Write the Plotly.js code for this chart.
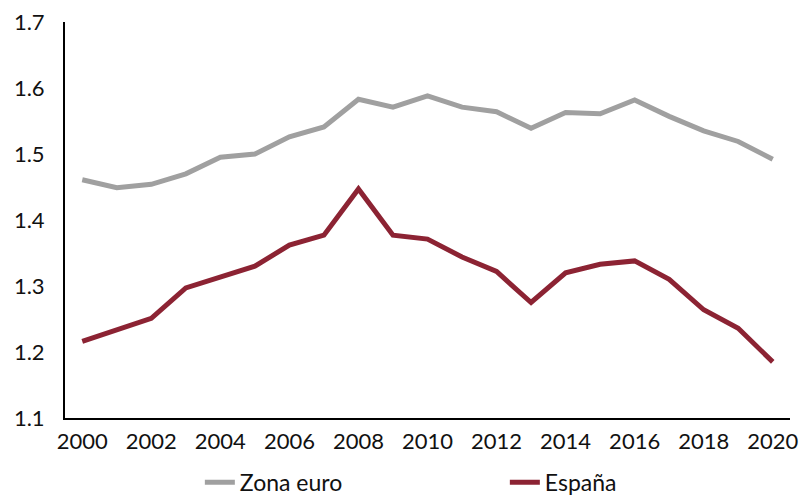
<!DOCTYPE html>
<html>
<head>
<meta charset="utf-8">
<script src="https://cdn.plot.ly/plotly-3.0.1.min.js"></script>
<style>html,body{margin:0;padding:0;background:#fff;}#chart{width:801px;height:496px;}</style>
</head>
<body>
<div id="chart"></div>
<script>
const years = [2000,2001,2002,2003,2004,2005,2006,2007,2008,2009,2010,2011,2012,2013,2014,2015,2016,2017,2018,2019,2020];
const zonaEuro = [1.461,1.449,1.454,1.470,1.495,1.500,1.526,1.541,1.583,1.571,1.588,1.571,1.564,1.539,1.563,1.561,1.582,1.557,1.535,1.519,1.492];
const espana = [1.216,1.233,1.251,1.297,1.314,1.330,1.362,1.377,1.447,1.377,1.371,1.344,1.322,1.275,1.320,1.333,1.338,1.310,1.264,1.236,1.185];
const yTicks = [1.1,1.2,1.3,1.4,1.5,1.6,1.7];
const xTicks = [2000,2002,2004,2006,2008,2010,2012,2014,2016,2018,2020];

const font = "Lato, 'Open Sans', sans-serif";
const traces = [
  {x: years, y: zonaEuro, name: 'Zona euro', type: 'scatter', mode: 'lines',
   line: {color: '#a0a0a0', width: 5}},
  {x: years, y: espana, name: 'España', type: 'scatter', mode: 'lines',
   line: {color: '#8c2333', width: 5}}
];
const layout = {
  width: 801, height: 496,
  margin: {l: 65, r: 11, t: 22, b: 78, autoexpand: false},
  paper_bgcolor: '#fff', plot_bgcolor: '#fff',
  font: {family: font, size: 22, color: '#111'},
  showlegend: true,
  legend: {orientation: 'h', x: 0.186, xanchor: 'left', y: -0.108, yanchor: 'top',
           font: {family: font, size: 23, color: '#111'}, entrywidth: 260, entrywidthmode: 'pixels'},
  xaxis: {range: [1999.5, 2020.5], tickvals: xTicks, ticktext: xTicks.map(String),
          showgrid: false, zeroline: false, showline: true, linecolor: '#000', linewidth: 2,
          ticks: 'outside', ticklen: 3, tickcolor: 'rgba(0,0,0,0)', tickfont: {size: 22}},
  yaxis: {range: [1.1, 1.7], tickvals: yTicks, ticktext: yTicks.map(v => v.toFixed(1)),
          showgrid: false, zeroline: false, showline: true, linecolor: '#000', linewidth: 2,
          ticks: 'outside', ticklen: 14, tickcolor: 'rgba(0,0,0,0)', tickfont: {size: 22}}
};
Plotly.newPlot('chart', traces, layout, {displayModeBar: false, staticPlot: true});
</script>
</body>
</html>
